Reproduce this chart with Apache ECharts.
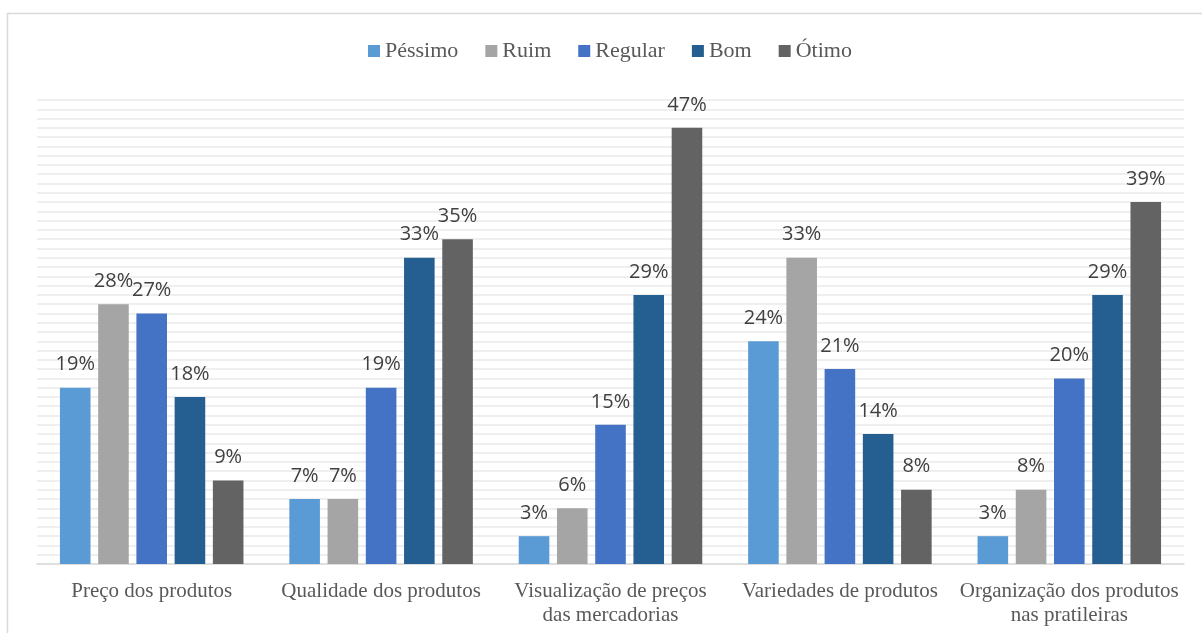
<!DOCTYPE html>
<html>
<head>
<meta charset="utf-8">
<script src="https://cdn.jsdelivr.net/npm/echarts@6/dist/echarts.min.js"></script>
<style>
  html, body { margin: 0; padding: 0; background: #ffffff; }
  #chart { width: 1202px; height: 633px; }
</style>
</head>
<body>
<div id="chart"></div>
<script>
// Survey categories (x axis)
const categories = [
  'Preço dos produtos',
  'Qualidade dos produtos',
  'Visualização de preços\ndas mercadorias',
  'Variedades de produtos',
  'Organização dos produtos\nnas pratileiras'
];

// Rating names (legend order)
const ratingNames = ['Péssimo', 'Ruim', 'Regular', 'Bom', 'Ótimo'];

// Percentage of answers per rating, one value per category
const pessimo = [19, 7, 3, 24, 3];
const ruim    = [28, 7, 6, 33, 8];
const regular = [27, 19, 15, 21, 20];
const bom     = [18, 33, 29, 14, 29];
const otimo   = [9, 35, 47, 8, 39];

const ratingValues = [pessimo, ruim, regular, bom, otimo];
const ratingColors = ['#5B9BD5', '#A5A5A5', '#4472C4', '#255E91', '#636363'];

const serifFont = '"Liberation Serif", "DejaVu Serif", serif';
const labelFont = '"Open Sans", "Liberation Sans", sans-serif';

const chart = echarts.init(document.getElementById('chart'), null, { renderer: 'canvas' });

const series = ratingNames.map((name, i) => ({
  name: name,
  type: 'bar',
  data: ratingValues[i],
  barGap: '25%',
  barCategoryGap: '20%',
  itemStyle: { color: ratingColors[i] },
  label: {
    show: true,
    position: 'top',
    distance: 13,
    formatter: '{c}%',
    fontFamily: labelFont,
    fontSize: 20,
    color: '#404040'
  },
  emphasis: { disabled: true }
}));

chart.setOption({
  animation: false,
  backgroundColor: '#ffffff',
  graphic: [{
    type: 'rect',
    shape: { x: 7.5, y: 13.5, width: 1260, height: 700 },
    style: { fill: 'none', stroke: '#d9d9d9', lineWidth: 1.5 },
    silent: true,
    z: -10
  }],
  legend: {
    data: ratingNames,
    left: 363,
    top: 35,
    icon: 'rect',
    itemWidth: 12,
    itemHeight: 12,
    itemGap: 27,
    textStyle: { fontFamily: serifFont, fontSize: 22, color: '#595959' }
  },
  grid: { left: 37, right: 18, top: 100, bottom: 69, containLabel: false },
  xAxis: {
    type: 'category',
    data: categories,
    axisTick: { show: false },
    axisLine: { lineStyle: { color: '#d9d9d9', width: 1.5 } },
    axisLabel: {
      fontFamily: serifFont,
      fontSize: 21,
      lineHeight: 24,
      color: '#595959',
      margin: 15,
      interval: 0,
      align: 'center'
    }
  },
  yAxis: {
    type: 'value',
    min: 0,
    max: 50,
    interval: 1,
    axisLabel: { show: false },
    axisLine: { show: false },
    axisTick: { show: false },
    splitLine: { lineStyle: { color: '#efefef', width: 2 } }
  },
  series: series
});
</script>
</body>
</html>
